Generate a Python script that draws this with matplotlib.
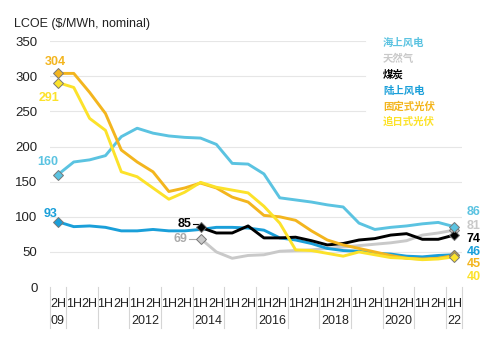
import matplotlib
matplotlib.use("Agg")
import matplotlib.pyplot as plt
import numpy as np

periods = ["2H", "1H", "2H", "1H", "2H", "1H", "2H", "1H", "2H", "1H", "2H", "1H", "2H",
           "1H", "2H", "1H", "2H", "1H", "2H", "1H", "2H", "1H", "2H", "1H", "2H", "1H"]
year_groups = [[0], [1, 2], [3, 4], [5, 6], [7, 8], [9, 10], [11, 12], [13, 14],
               [15, 16], [17, 18], [19, 20], [21, 22], [23, 24], [25]]
group_labels = ["09", "", "", "2012", "", "2014", "", "2016", "", "2018", "", "2020", "", "22"]

offshore_wind = [160, 178, 181, 187, 214, 226, 219, 215, 213, 212, 203, 176, 175, 161,
                 127, 124, 121, 117, 114, 91, 82, 85, 87, 90, 92, 86]
onshore_wind = [93, 86, 87, 85, 80, 80, 82, 80, 80, 82, 85, 85, 84, 81,
                70, 67, 62, 55, 52, 51, 48, 47, 44, 43, 45, 46]
fixed_pv = [304, 304, 277, 247, 195, 178, 164, 136, 141, 148, 141, 128, 121, 102,
            100, 95, 80, 67, 60, 55, 50, 45, 41, 40, 41, 45]
tracking_pv = [291, 284, 240, 223, 164, 157, 141, 125, 135, 149, 142, 138, 134, 115,
               91, 53, 52, 48, 44, 50, 46, 42, 41, 39, 40, 43]
gas = [None] * 9 + [69, 50, 41, 45, 46, 51, 52, 53, 55, 57, 59, 61, 63, 66, 74, 77, 81]
coal = [None] * 9 + [85, 77, 77, 87, 70, 70, 71, 66, 60, 62, 67, 69, 74, 76, 68, 68, 74]

legend_names = ["海上风电", "天然气", "煤炭", "陆上风电", "固定式光伏", "追日式光伏"]
c_off, c_gas, c_coal, c_on, c_fix, c_trk = "#5BC3E1", "#C9C9C9", "#000000", "#1A9FD9", "#F3B51E", "#FCE22A"
colors = [c_off, c_gas, c_coal, c_on, c_fix, c_trk]

plt.rcParams['font.family'] = ['Liberation Sans', 'Noto Sans CJK SC', 'DejaVu Sans']

fig = plt.figure(figsize=(5.0, 3.48), dpi=100)
ax = fig.add_axes([0.1, 0.175, 0.824, 0.707])
x = np.arange(len(periods))
ax.set_xlim(-0.5, len(periods) - 0.5)
ax.set_ylim(0, 350)

for v in [50, 100, 150, 200]:
    ax.plot([-0.5, 25.5], [v, v], color="#E6E6E6", lw=0.8, zorder=0)
for v in [250, 300, 350]:
    ax.plot([-0.5, 19.4], [v, v], color="#E6E6E6", lw=0.8, zorder=0)

for s in ax.spines.values():
    s.set_visible(False)
ax.set_xticks([])
ax.set_yticks([0, 50, 100, 150, 200, 250, 300, 350])
ax.tick_params(axis='y', length=0, pad=9, labelsize=9.5, labelcolor="#222222")

def series(vals):
    xs = [i for i, v in enumerate(vals) if v is not None]
    ys = [v for v in vals if v is not None]
    return np.array(xs), np.array(ys, dtype=float)

data = [(gas, c_gas), (onshore_wind, c_on), (coal, c_coal), (offshore_wind, c_off),
        (fixed_pv, c_fix), (tracking_pv, c_trk)]
for vals, col in data:
    xs, ys = series(vals)
    ax.plot(xs, ys, color=col, lw=2.1, solid_joinstyle='round', zorder=3)
    ax.plot([xs[0], xs[-1]], [ys[0], ys[-1]], ls='none', marker='D', ms=5,
            mfc=col, mec="#777777", mew=0.7, zorder=4)

ax.text(-0.18, 320, "304", color=c_fix, fontsize=9, fontweight='bold', ha='center', va='center')
ax.text(-0.56, 269, "291", color=c_trk, fontsize=9, fontweight='bold', ha='center', va='center')
ax.text(-0.63, 178, "160", color=c_off, fontsize=9, fontweight='bold', ha='center', va='center')
ax.text(-0.44, 104, "93", color=c_on, fontsize=9, fontweight='bold', ha='center', va='center')
ax.text(8.4, 90, "85", color=c_coal, fontsize=9, fontweight='bold', ha='right', va='center')
ax.plot([8.5, 8.85], [90, 90], color=c_coal, lw=0.8)
ax.text(8.15, 68, "69", color="#AAAAAA", fontsize=9, fontweight='bold', ha='right', va='center')
ax.plot([8.3, 8.75], [68, 68], color="#AAAAAA", lw=0.8)

end_labels = ["86", "81", "74", "46", "45", "40"]
end_colors = [c_off, c_gas, c_coal, c_on, c_fix, c_trk]
end_y = [107, 87, 68, 50, 33, 14]
for t, c, yy in zip(end_labels, end_colors, end_y):
    ax.text(25.8, yy, t, color=c, fontsize=9, fontweight='bold', ha='left', va='center',
            clip_on=False)

for i, (name, col) in enumerate(zip(legend_names, colors)):
    fig.text(383 / 500, 1 - (43 + i * 15.8) / 348, name, color=col, fontsize=7.5,
             fontweight='bold', ha='left', va='center',
             family=['Noto Sans CJK SC', 'DejaVu Sans'])

fig.text(14 / 500, 1 - 24 / 348, "LCOE ($/MWh, nominal)", fontsize=9, color="#222222",
         ha='left', va='center')

trans = ax.get_xaxis_transform()
for i, p in enumerate(periods):
    ax.text(i, -0.045, p, transform=trans, ha='center', va='top', fontsize=9, color="#222222")
bounds = [-0.5] + [g[-1] + 0.5 for g in year_groups]
for b in bounds:
    ax.plot([b, b], [0, -0.165], transform=trans, color="#D5D5D5", lw=0.8, clip_on=False)
for g, lab in zip(year_groups, group_labels):
    if lab:
        ax.text(np.mean(g), -0.115, lab, transform=trans, ha='center', va='top',
                fontsize=9, color="#222222")

fig.savefig("out.png", dpi=100)
